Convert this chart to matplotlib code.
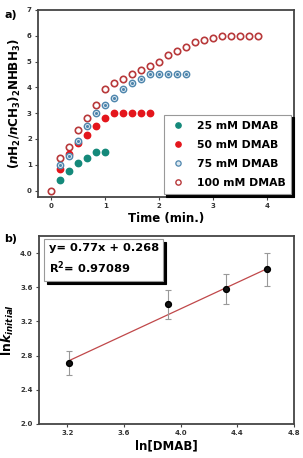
import matplotlib
matplotlib.use('Agg')
import matplotlib.pyplot as plt
from matplotlib.lines import Line2D
import numpy as np

plt.rcParams['font.family'] = 'DejaVu Sans'
plt.rcParams['font.weight'] = 'bold'
plt.rcParams['mathtext.fontset'] = 'custom'
plt.rcParams['mathtext.rm'] = 'DejaVu Sans:bold'
plt.rcParams['mathtext.bf'] = 'DejaVu Sans:bold'
plt.rcParams['mathtext.it'] = 'DejaVu Sans:italic:bold'
plt.rcParams['mathtext.bfit'] = 'DejaVu Sans:italic:bold'

# panel a: H2 evolution vs time
t_25 = [0.167, 0.333, 0.5, 0.667, 0.833, 1.0]
h_25 = [0.42, 0.75, 1.08, 1.25, 1.5, 1.5]
t_50 = [0.167, 0.333, 0.5, 0.667, 0.833, 1.0, 1.167, 1.333, 1.5, 1.667, 1.833]
h_50 = [0.83, 1.42, 1.83, 2.17, 2.5, 2.83, 3.0, 3.0, 3.0, 3.0, 3.0]
t_75 = [0.167, 0.333, 0.5, 0.667, 0.833, 1.0, 1.167, 1.333, 1.5, 1.667,
        1.833, 2.0, 2.167, 2.333, 2.5]
h_75 = [1.0, 1.33, 1.92, 2.5, 3.0, 3.33, 3.58, 3.92, 4.17, 4.33,
        4.5, 4.5, 4.5, 4.5, 4.5]
t_100 = [0.0, 0.167, 0.333, 0.5, 0.667, 0.833, 1.0, 1.167, 1.333, 1.5, 1.667,
         1.833, 2.0, 2.167, 2.333, 2.5, 2.667, 2.833, 3.0, 3.167, 3.333, 3.5,
         3.667, 3.833]
h_100 = [0.0, 1.25, 1.67, 2.33, 2.83, 3.33, 3.92, 4.17, 4.33, 4.5, 4.67,
         4.83, 5.0, 5.25, 5.42, 5.58, 5.75, 5.83, 5.92, 6.0, 6.0, 6.0,
         6.0, 6.0]

# panel b: ln k vs ln[DMAB]
ln_dmab = [3.21, 3.91, 4.32, 4.61]
ln_k = [2.71, 3.40, 3.58, 3.81]
ln_k_err = [0.14, 0.17, 0.18, 0.19]
slope, intercept, r2 = 0.77, 0.268, 0.97089

fig = plt.figure(figsize=(3.03, 4.58), dpi=100)
ax_a = fig.add_axes([38 / 303, 1 - 197 / 458, 256 / 303, 187 / 458])
ax_b = fig.add_axes([39 / 303, 1 - 424 / 458, 255 / 303, 188 / 458])

ms = 4.6
ax_a.plot(t_25, h_25, 'o', ms=ms, color='#14897a', mec='#14897a', zorder=3)
ax_a.plot(t_50, h_50, 'o', ms=ms, color='#e4161c', mec='#e4161c', zorder=3)
ax_a.plot(t_100, h_100, 'o', ms=ms, mfc='white', mec='#b8393b', mew=1.2, zorder=2)
ax_a.plot(t_75, h_75, 'o', ms=ms, mfc='#dce8f0', mec='#4f86ad', mew=1.0, zorder=4)
ax_a.plot(t_75, h_75, 'o', ms=1.2, color='#4f86ad', zorder=5)

handles = [
    Line2D([], [], ls='none', marker='o', ms=3.8, color='#14897a'),
    Line2D([], [], ls='none', marker='o', ms=3.8, color='#e4161c'),
    Line2D([], [], ls='none', marker='o', ms=3.8, mfc='#dce8f0', mec='#4f86ad', mew=0.9),
    Line2D([], [], ls='none', marker='o', ms=3.8, mfc='white', mec='#b8393b', mew=1.0),
]
labels = ['25 mM DMAB', '50 mM DMAB', '75 mM DMAB', '100 mM DMAB']
leg = ax_a.legend(handles, labels, loc='lower right', bbox_to_anchor=(0.99, 0.015),
                  borderaxespad=0, fontsize=7.8, frameon=True, fancybox=False,
                  shadow={'color': 'black', 'alpha': 1},
                  handletextpad=0.9, borderpad=0.55, labelspacing=0.85,
                  handlelength=1.6)
leg.get_frame().set_edgecolor('#999999')
leg.get_frame().set_linewidth(0.8)

ax_a.set_xlim(-0.25, 4.5)
ax_a.set_ylim(-0.25, 7)
ax_a.set_xticks([0, 1, 2, 3, 4])
ax_a.set_yticks(range(0, 8))
ax_a.set_xlabel('Time (min.)', fontsize=8.5, fontweight='bold', labelpad=2)
ax_a.set_ylabel(r'$(\mathbfit{n}\mathbf{H_2/}\mathbfit{n}\mathbf{CH_3)_2NHBH_3)}$',
                fontsize=8.6, labelpad=3)
fig.text(0.015, 0.978, 'a)', fontsize=8, fontweight='bold', va='top')

# panel b
ax_b.errorbar(ln_dmab, ln_k, yerr=ln_k_err, fmt='o', ms=4.2, color='black',
              mfc='#111111', ecolor='#999999', elinewidth=0.8, capsize=2,
              capthick=0.8, zorder=3)
xfit = np.array([ln_dmab[0], ln_dmab[-1]])
ax_b.plot(xfit, slope * xfit + intercept, color='#c0484a', lw=0.9, zorder=2)

ax_b.set_xlim(3.0, 4.8)
ax_b.set_ylim(2.0, 4.2)
ax_b.set_xticks([3.2, 3.6, 4.0, 4.4, 4.8])
ax_b.set_yticks([2.0, 2.4, 2.8, 3.2, 3.6, 4.0])
ax_b.set_xlabel('ln[DMAB]', fontsize=8.5, fontweight='bold', labelpad=2)
ax_b.set_ylabel(r'$\mathbf{ln}\mathbfit{k}_{\mathbfit{initial}}$', fontsize=9, labelpad=3)
fig.text(0.015, 0.49, 'b)', fontsize=8, fontweight='bold', va='top')

blank = Line2D([], [], ls='none')
fit_txt = [f'y= {slope}x + {intercept}', f'R$^2$= {r2}']
leg_b = ax_b.legend([blank, blank], fit_txt, loc='upper left',
                    bbox_to_anchor=(0.02, 0.985), borderaxespad=0,
                    fontsize=8.2, frameon=True, fancybox=False,
                    shadow={'color': 'black', 'alpha': 1},
                    handlelength=0, handletextpad=0, borderpad=0.4,
                    labelspacing=0.55)
leg_b.get_frame().set_edgecolor('#999999')
leg_b.get_frame().set_linewidth(0.8)

for ax in (ax_a, ax_b):
    for s in ax.spines.values():
        s.set_linewidth(1.3)
        s.set_color('#444444')
    ax.tick_params(direction='out', length=2.5, width=0.8, labelsize=5,
                   pad=2, color='#444444')
    for lbl in ax.get_xticklabels() + ax.get_yticklabels():
        lbl.set_fontweight('bold')
        lbl.set_color('#333333')

fig.savefig('out.png', dpi=100)
